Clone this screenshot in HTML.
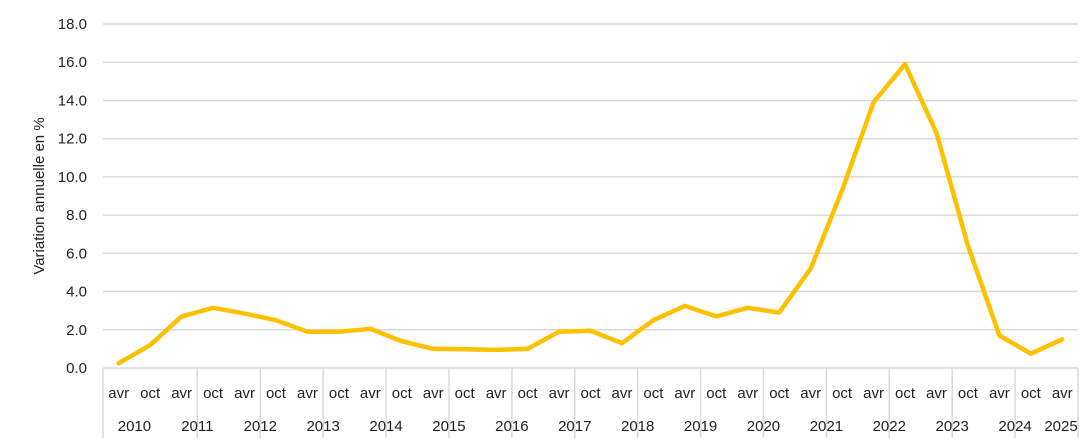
<!DOCTYPE html>
<html><head><meta charset="utf-8"><style>
body{margin:0;background:#fff;}
svg{display:block;font-family:"Liberation Sans","DejaVu Sans",sans-serif;}
</style></head><body>
<svg id="chart" width="1086" height="448" viewBox="0 0 1086 448" xmlns="http://www.w3.org/2000/svg">
<text transform="translate(44,196) rotate(-90)" text-anchor="middle" font-size="15" fill="#222">Variation annuelle en %</text>
<g id="grid"></g><g id="axis"></g><g id="series"></g>
</svg>
<script>
const categories = ["avr","oct","avr","oct","avr","oct","avr","oct","avr","oct","avr","oct","avr","oct","avr","oct","avr","oct","avr","oct","avr","oct","avr","oct","avr","oct","avr","oct","avr","oct","avr"];
const years = ["2010","2011","2012","2013","2014","2015","2016","2017","2018","2019","2020","2021","2022","2023","2024","2025"];
const values = [0.25,1.2,2.7,3.15,2.85,2.5,1.9,1.9,2.05,1.4,1.0,0.98,0.95,1.0,1.9,1.95,1.3,2.5,3.25,2.7,3.15,2.9,5.2,9.3,13.9,15.9,12.3,6.4,1.7,0.75,1.5];
const yTicks = [0,2,4,6,8,10,12,14,16,18];
const NS="http://www.w3.org/2000/svg";
const x0=103,x1=1078,yTop=24,yBot=368,yMax=18;
const step=(x1-x0)/categories.length;
const xs=i=>x0+step*(i+0.5);
const ys=v=>yBot-(v/yMax)*(yBot-yTop);
function mk(tag,parent,attrs){const e=document.createElementNS(NS,tag);for(const k in attrs)e.setAttribute(k,attrs[k]);parent.appendChild(e);return e;}
const grid=document.getElementById('grid'),axis=document.getElementById('axis'),series=document.getElementById('series');
yTicks.forEach(t=>{
  const l=mk('line',grid,{x1:x0,x2:x1,y1:ys(t),y2:ys(t),stroke:'#d9d9d9','stroke-width':1.5});
  
  
  const tx=mk('text',axis,{x:87,y:ys(t)+5,'text-anchor':'end','font-size':15,fill:'#222'});
  tx.textContent=t.toFixed(1);
  
  
});
categories.forEach((c,i)=>{
  const tx=mk('text',axis,{x:xs(i),y:398,'text-anchor':'middle','font-size':15,fill:'#222'});
  tx.textContent=c;
  
  
});
const seps=[0];for(let k=3;k<=categories.length;k+=2)seps.push(k);
seps.forEach(k=>{
  const l=mk('line',axis,{x1:x0+step*k,x2:x0+step*k,y1:yBot,y2:438,stroke:'#d9d9d9','stroke-width':1.5});
  
  
});
years.forEach((y,j)=>{
  const x = j===0 ? x0+step : x0+step*(1+2*j);
  const tx=mk('text',axis,{x:Math.min(x,1061),y:431,'text-anchor':'middle','font-size':15,fill:'#222'});
  tx.textContent=y;
  
  
});
const p=mk('polyline',series,{points:values.map((v,i)=>xs(i)+','+ys(v)).join(' '),fill:'none',stroke:'#ffc000','stroke-width':4.5,'stroke-linejoin':'round','stroke-linecap':'round'});


</script>
</body></html>
